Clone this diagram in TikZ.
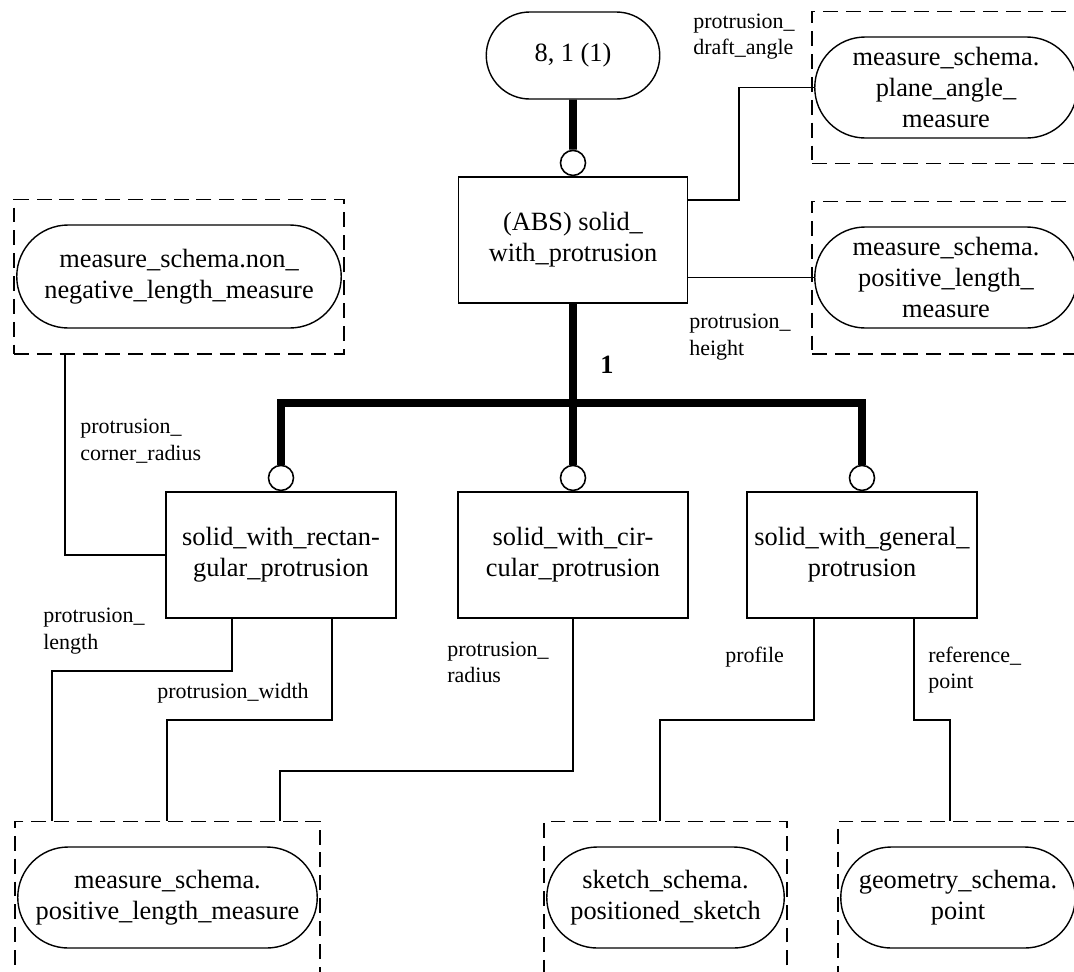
\documentclass[tikz,border=0pt]{standalone}
\usepackage{fontspec}
\setmainfont{Liberation Serif}
\usetikzlibrary{positioning,fit,shapes.misc}

\begin{document}
\begin{tikzpicture}[
  box/.style={draw, line width=0.9pt, minimum width=4.6cm, minimum height=2.52cm,
              align=center, inner sep=1pt, font=\fontsize{15}{17.5}\selectfont},
  pill/.style={draw, rounded rectangle, line width=0.8pt, minimum height=2.02cm,
               align=center, inner sep=1pt, font=\fontsize{15}{17.5}\selectfont},
  frame/.style={draw, dash pattern=on 8.5pt off 4.5pt, line width=0.9pt,
                inner xsep=0.04cm, inner ysep=0.5cm},
  ring/.style={draw, circle, line width=0.9pt, fill=white, minimum size=0.5cm, inner sep=0pt},
  conn/.style={line width=0.9pt},
  bus/.style={line width=4.5pt},
  lbl/.style={font=\fontsize{12.5}{15}\selectfont, align=left, inner sep=0pt, anchor=west}
]
\useasboundingbox (0,0) rectangle (21.48,-19.42);
\clip (0,0) rectangle (21.48,-19.42);
\fill[white] (0,0) rectangle (21.48,-19.42);

% --- Top: supertype ---
\node[pill, minimum width=3.54cm, minimum height=1.74cm] (top) at (11.46,-1.11) {8, 1 (1)};
\node[box, minimum width=4.58cm] (abs) at (11.46,-4.8) {(ABS) solid\_\\with\_protrusion};
\node[ring, above=0pt of abs] (c0) {};

% --- Subtypes ---
\node[box] (rect) at (5.62,-11.1) {solid\_with\_rectan-\\gular\_protrusion};
\node[box] (circ) at (11.46,-11.1) {solid\_with\_cir-\\cular\_protrusion};
\node[box] (gen) at (17.24,-11.1) {solid\_with\_general\_\\protrusion};
\node[ring, above=0pt of rect] (c1) {};
\node[ring, above=0pt of circ] (c2) {};
\node[ring, above=0pt of gen] (c3) {};

% --- Referenced types ---
\node[pill, minimum width=5.32cm] (pa) at (18.92,-1.75) {measure\_schema.\\plane\_angle\_\\measure};
\node[pill, minimum width=5.32cm] (pl) at (18.92,-5.55) {measure\_schema.\\positive\_length\_\\measure};
\node[pill, minimum width=6.56cm, minimum height=2.06cm] (nn) at (3.58,-5.53) {measure\_schema.non\_\\negative\_length\_measure};
\node[pill, minimum width=6.06cm] (pb) at (3.35,-17.95) {measure\_schema.\\positive\_length\_measure};
\node[pill, minimum width=4.82cm] (sk) at (13.31,-17.95) {sketch\_schema.\\positioned\_sketch};
\node[pill, minimum width=4.76cm] (geo) at (19.16,-17.95) {geometry\_schema.\\point};

\node[frame, fit=(pa)] (pabox) {};
\node[frame, fit=(pl)] (plbox) {};
\node[frame, fit=(nn)] (nnbox) {};
\node[frame, fit=(pb)] (pbbox) {};
\node[frame, fit=(sk)] (skbox) {};
\node[frame, fit=(geo)] (geobox) {};

% --- Thick lines ---
\coordinate (hub) at (11.46,-8.06);
\draw[bus] (top) -- (c0);
\draw[bus] (abs) -- (hub);
\draw[bus] (c1) |- (hub) -| (c3);
\draw[bus] (hub) -- (c2);
\node[font=\bfseries\fontsize{15}{17.5}\selectfont] (one) at (12.14,-7.3) {1};

% --- Attributes ---
\draw[conn] ([yshift=0.8cm]abs.east) -- ++(1.01,0) |- (pa.west);
\draw[conn] (abs.east |- pl.west) -- (pl.west);
\draw[conn] ([xshift=1.04cm]nnbox.south west) |- (rect.west);
\draw[conn] ([xshift=-0.98cm]rect.south) -- ++(0,-1.04) -| ([xshift=0.76cm]pbbox.north west);
\draw[conn] ([xshift=1.02cm]rect.south) -- ++(0,-2.02) -| ([xshift=3.06cm]pbbox.north west);
\draw[conn] (circ.south) -- ++(0,-3.04) -| ([xshift=5.32cm]pbbox.north west);
\draw[conn] ([xshift=-0.96cm]gen.south) -- ++(0,-2.02) -| ([xshift=2.34cm]skbox.north west);
\draw[conn] ([xshift=1.04cm]gen.south) -- ++(0,-2.02) -| ([xshift=2.26cm]geobox.north west);

\node[lbl] (ldraft) at (13.86,-0.73) {protrusion\_\\draft\_angle};
\node[lbl] (lheight) at (13.78,-6.74) {protrusion\_\\height};
\node[lbl] (lcorner) at (1.6,-8.82) {protrusion\_\\corner\_radius};
\node[lbl] (llength) at (0.86,-12.62) {protrusion\_\\length};
\node[lbl] (lwidth) at (3.14,-13.86) {protrusion\_width};
\node[lbl] (lradius) at (8.94,-13.25) {protrusion\_\\radius};
\node[lbl] (lprofile) at (14.5,-13.14) {profile};
\node[lbl] (lref) at (18.56,-13.4) {reference\_\\point};

\end{tikzpicture}
\end{document}
